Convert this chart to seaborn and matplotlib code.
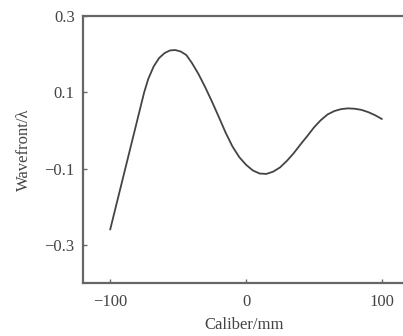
import numpy as np
import pandas as pd
import matplotlib
matplotlib.use("Agg")
import matplotlib.pyplot as plt
import seaborn as sns

caliber = [-100, -95, -90, -85, -80, -75, -72, -68, -64, -60, -56, -52, -48,
           -44, -40, -35, -30, -25, -20, -15, -10, -5, 0, 5, 10, 15, 20, 25,
           30, 35, 40, 45, 50, 55, 60, 65, 70, 75, 80, 85, 90, 95, 100]
wavefront = [-0.26, -0.188, -0.116, -0.044, 0.028, 0.10, 0.135, 0.168, 0.19,
             0.203, 0.21, 0.211, 0.207, 0.198, 0.178, 0.148, 0.113, 0.075,
             0.035, -0.006, -0.042, -0.07, -0.09, -0.105, -0.113, -0.114,
             -0.108, -0.097, -0.08, -0.06, -0.037, -0.015, 0.008, 0.027,
             0.042, 0.051, 0.056, 0.058, 0.057, 0.054, 0.048, 0.04, 0.03]
xticks = [-100, 0, 100]
yticks = [-0.3, -0.1, 0.1, 0.3]

df = pd.DataFrame({"caliber": caliber, "wavefront": wavefront})

sns.set_style("ticks")
plt.rcParams["font.family"] = ["Liberation Serif", "DejaVu Serif"]

fig = plt.figure(figsize=(4.03, 3.36), dpi=100)
ax = fig.add_axes([0.206, 0.158, 0.80, 0.794])
sns.lineplot(data=df, x="caliber", y="wavefront", ax=ax, color="#444444", linewidth=1.3)

ax.set_xlim(-120, 117.3)
ax.set_ylim(-0.4, 0.3)
ax.set_xticks(xticks)
ax.set_xticklabels(["\u2212100", "0", "100"])
ax.set_yticks(yticks)
ax.set_yticklabels(["\u22120.3", "\u22120.1", "0.1", "0.3"])
ax.set_xlabel("Caliber/mm", fontsize=12, color="#444444", labelpad=5)
ax.set_ylabel("Wavefront/\u03bb", fontsize=12, color="#444444", labelpad=9)
ax.tick_params(direction="in", length=3, width=1, color="#666666",
               labelsize=12, labelcolor="#444444")
ax.tick_params(axis="x", pad=8)
ax.tick_params(axis="y", pad=6)
for side in ["left", "bottom", "top"]:
    ax.spines[side].set_color("#666666")
    ax.spines[side].set_linewidth(1.6)
ax.spines["right"].set_visible(False)

fig.savefig("out.png", dpi=100)
